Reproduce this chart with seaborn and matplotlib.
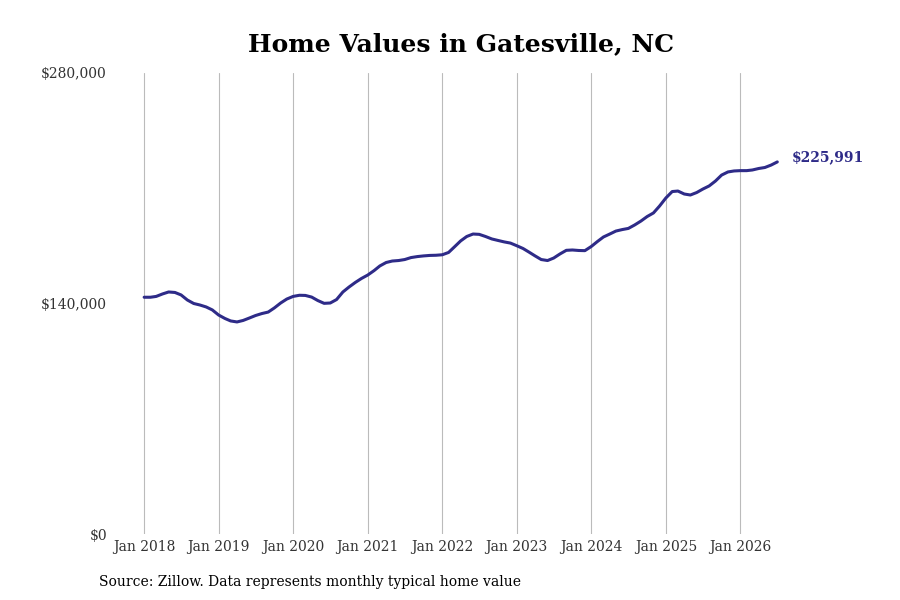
import pandas as pd
import numpy as np
import matplotlib
matplotlib.use("Agg")
import matplotlib.pyplot as plt
import matplotlib.dates as mdates
import seaborn as sns

# monthly typical home value, Jan 2018 - Jul 2026
values = [
    143800, 143800, 144300, 145800, 147000, 146700, 145200, 142100, 140000, 139100, 137900, 136100,
    133000, 130900, 129400, 128800, 129700, 131200, 132700, 133900, 134800, 137300, 140300, 142700,
    144300, 145000, 144900, 143900, 141800, 140100, 140300, 142400, 147000, 150000, 152800, 155200,
    157300, 160000, 162800, 164900, 165800, 166100, 166700, 167900, 168500, 168900, 169200, 169300,
    169600, 171000, 174300, 178000, 180700, 182200, 182000, 180700, 179200, 178300, 177400, 176700,
    175100, 173400, 171300, 168900, 166700, 166100, 167600, 170100, 172300, 172500, 172200, 172100,
    174600, 177700, 180400, 182200, 184000, 184900, 185600, 187700, 190100, 192800, 195000, 199200,
    204100, 208000, 208300, 206500, 205900, 207400, 209500, 211400, 214400, 218000, 219900, 220500,
    220700, 220700, 221100, 222000, 222600, 224100, 225991,
]
dates = pd.date_range("2018-01-01", periods=len(values), freq="MS")
year_ticks = pd.date_range("2018-01-01", "2026-01-01", freq="YS")
y_ticks = [0, 140000, 280000]
title = "Home Values in Gatesville, NC"
source = "Source: Zillow. Data represents monthly typical home value"

df = pd.DataFrame({"date": dates, "value": values})

line_color = "#2e2b88"

sns.set_theme(style="white")
plt.rcParams["font.family"] = ["DejaVu Serif"]

fig = plt.figure(figsize=(9, 6), dpi=100)
ax = fig.add_axes([111.5 / 900, 66 / 600, 676 / 900, 461 / 600])

sns.lineplot(data=df, x="date", y="value", ax=ax, color=line_color, linewidth=2.2)

ax.set_ylim(0, 280000)
ax.set_xlim(pd.Timestamp("2017-07-25"), pd.Timestamp("2026-08-20"))
ax.set_xticks(year_ticks)
ax.xaxis.set_major_formatter(mdates.DateFormatter("%b %Y"))
ax.set_yticks(y_ticks)
ax.set_yticklabels([f"${v:,.0f}" for v in y_ticks])
ax.tick_params(axis="both", length=0, labelsize=10, colors="#333333")
ax.tick_params(axis="y", pad=3.3)
ax.tick_params(axis="x", pad=4)
ax.grid(axis="x", color="#bbbbbb", linewidth=0.8)
ax.grid(axis="y", visible=False)
for s in ax.spines.values():
    s.set_visible(False)
ax.set_xlabel("")
ax.set_ylabel("")

ax.annotate(f"${values[-1]:,.0f}", xy=(dates[-1], values[-1]),
            xytext=(14, 5), textcoords="offset pixels",
            ha="left", va="center", fontsize=10, fontweight="bold", color=line_color)

fig.text(461 / 900, 1 - 44 / 600, title, ha="center", va="center",
         fontsize=18, fontweight="bold", color="black")
fig.text(99 / 900, 1 - 582 / 600, source, ha="left", va="center",
         fontsize=10, color="black")

fig.savefig("out.png", dpi=100)
